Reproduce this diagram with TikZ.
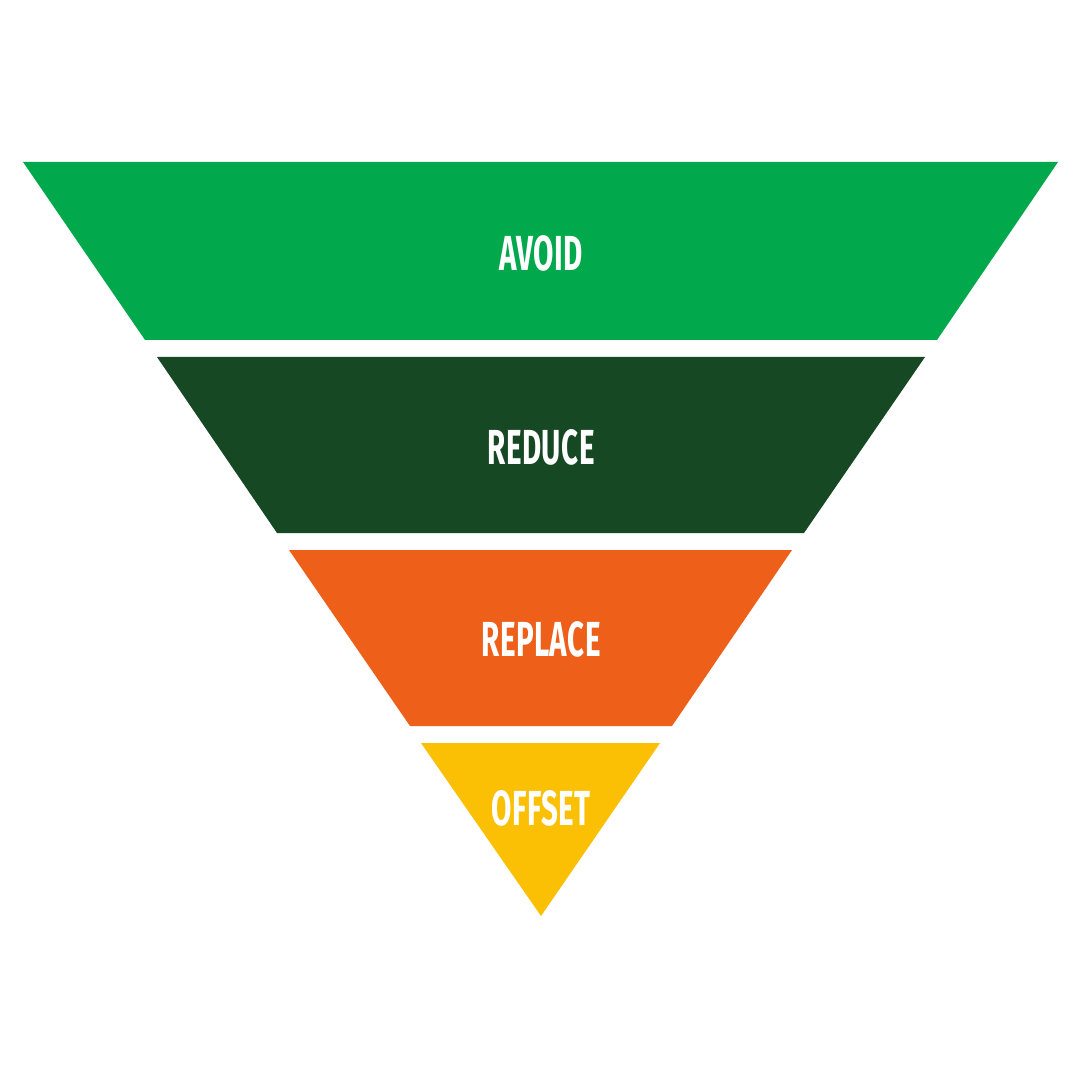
\documentclass[tikz,border=0pt]{standalone}
\usepackage{fontspec}
\usepackage{xcolor}
\newfontfamily\labelfont[FakeStretch=0.6,LetterSpace=1]{Fira Sans Bold}
\definecolor{AvoidGreen}{HTML}{02A84C}
\definecolor{ReduceGreen}{HTML}{174824}
\definecolor{ReplaceOrange}{HTML}{EE5F1A}
\definecolor{OffsetYellow}{HTML}{FBC003}
\tikzset{
  band/.style={draw=none},
  bandlabel/.style={text=white, font=\labelfont\fontsize{14pt}{15pt}\selectfont, inner sep=0pt, anchor=center}
}
\begin{document}
\begin{tikzpicture}[x=0.01cm, y=-0.01cm]
\useasboundingbox (0,0) rectangle (1080,1080);
\fill[white] (0,0) rectangle (1080,1080);
% bands, top to bottom
\fill[band, AvoidGreen] (23,162) -- (1058,162) -- (937,340) -- (145,340) -- cycle;
\fill[band, ReduceGreen] (157,357) -- (925,357) -- (804,533) -- (277,533) -- cycle;
\fill[band, ReplaceOrange] (289,550) -- (792,550) -- (672,726) -- (410,726) -- cycle;
\fill[band, OffsetYellow] (421,743) -- (660,743) -- (541,916) -- cycle;
% labels
\node[bandlabel] (avoid) at (541,253) {AVOID};
\node[bandlabel] (reduce) at (541,447) {REDUCE};
\node[bandlabel] (replace) at (541,639) {REPLACE};
\node[bandlabel] (offset) at (541,808) {OFFSET};
\end{tikzpicture}
\end{document}
